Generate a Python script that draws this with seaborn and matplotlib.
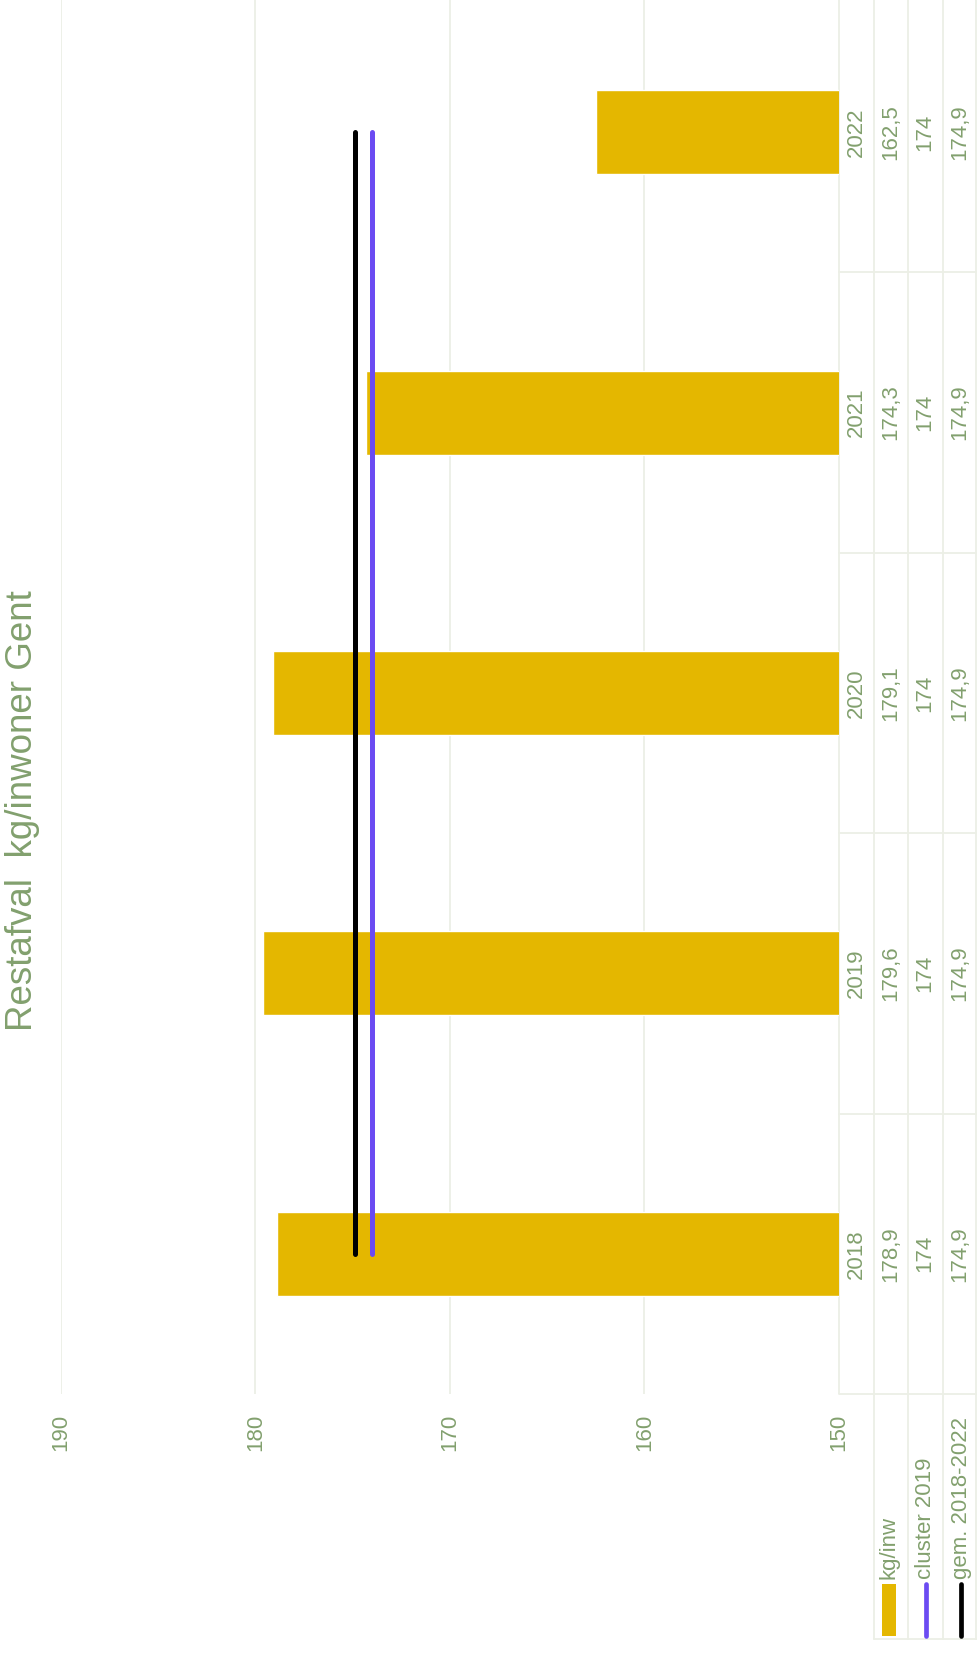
import numpy as np
import pandas as pd
import matplotlib
matplotlib.use("Agg")
import matplotlib.pyplot as plt
import seaborn as sns

sns.set_theme(style="white")
plt.rcParams['font.family'] = ['Liberation Sans', 'DejaVu Sans']

# data
years = [2018, 2019, 2020, 2021, 2022]
kg_inw = [178.9, 179.6, 179.1, 174.3, 162.5]
cluster_2019 = [174, 174, 174, 174, 174]
gem_2018_2022 = [174.9, 174.9, 174.9, 174.9, 174.9]
x_ticks = [190, 180, 170, 160, 150]
legend_labels = ["kg/inw", "cluster 2019", "gem. 2018-2022"]
title = "Restafval  kg/inwoner Gent"

GOLD = "#E4B700"
PURPLE = "#6B4BF2"
BLACK = "#000000"
TXT = "#82A06E"
GRID = "#ECEFE6"

def fmt(v):
    s = f"{v:g}"
    return s.replace(".", ",")

df = pd.DataFrame({"year": years, "kg": kg_inw, "cluster": cluster_2019, "gem": gem_2018_2022})

W, H = 977, 1655
fig = plt.figure(figsize=(W / 100, H / 100), dpi=100)

# px layout (from top)
ax_left, ax_right = 61, 839
ax_top, ax_bottom = -8, 1394
per_year = (ax_bottom - ax_top) / 5.0

ax = fig.add_axes([ax_left / W, (H - ax_bottom) / H, (ax_right - ax_left) / W, (ax_bottom - ax_top) / H])
sns.barplot(data=df, x="kg", y="year", orient="h", native_scale=True, width=0.3,
            color=GOLD, saturation=1, ax=ax)
sns.lineplot(x=df["gem"], y=df["year"], orient="y", sort=False, color=BLACK, lw=3.6,
             solid_capstyle="round", ax=ax)
sns.lineplot(x=df["cluster"], y=df["year"], orient="y", sort=False, color=PURPLE, lw=3.6,
             solid_capstyle="round", ax=ax)
ax.set_xlim(190, 150)
ax.set_ylim(2017.5, 2022.5)
ax.set_xticks(x_ticks)
ax.set_xticklabels([str(t) for t in x_ticks], rotation=90, color=TXT, fontsize=16, va="top")
ax.set_yticks([])
ax.tick_params(axis="x", length=0, pad=14)
ax.grid(axis="x", color=GRID, lw=1.3)
ax.set_xlabel("")
ax.set_ylabel("")
for s in ax.spines.values():
    s.set_visible(False)

# table + legend area
tb_bottom = 1642
ylo = 2022.5 - (tb_bottom - ax_top) / per_year
tx = fig.add_axes([ax_right / W, (H - tb_bottom) / H, (W - ax_right) / W, (tb_bottom - ax_top) / H])
tx.set_xlim(0, 4)
tx.set_ylim(ylo, 2022.5)
tx.axis("off")

for yb in np.arange(2017.5, 2023, 1.0):
    tx.plot([0, 4], [yb, yb], color=GRID, lw=1.3, clip_on=False)
tx.plot([0, 0], [2017.5, 2022.5], color=GRID, lw=1.3)
for xb in [1, 2, 3, 3.97]:
    tx.plot([xb, xb], [ylo + 0.01, 2022.5], color=GRID, lw=1.3)
tx.plot([1, 4], [ylo + 0.01, ylo + 0.01], color=GRID, lw=1.3)

for i, yr in enumerate(years):
    row = [str(yr), fmt(kg_inw[i]), fmt(cluster_2019[i]), fmt(gem_2018_2022[i])]
    for j, t in enumerate(row):
        tx.text(j + 0.5, yr, t, rotation=90, ha="center", va="center", color=TXT, fontsize=16)

# legend cells
sw_bot = 2022.5 - (1636 - ax_top) / per_year
sw_top = 2022.5 - (1584 - ax_top) / per_year
txt_y = 2022.5 - (1579 - ax_top) / per_year
leg_x = [1.45, 2.52, 3.55]
tx.fill_between([leg_x[0] - 0.19, leg_x[0] + 0.19], sw_bot, sw_top, color=GOLD, lw=0)
tx.plot([leg_x[1], leg_x[1]], [sw_bot, sw_top], color=PURPLE, lw=3.4, solid_capstyle="round")
tx.plot([leg_x[2], leg_x[2]], [sw_bot, sw_top], color=BLACK, lw=3.4, solid_capstyle="round")
for lx, lab in zip(leg_x, legend_labels):
    tx.text(lx, txt_y, lab, rotation=90, rotation_mode="anchor", ha="left", va="center",
            color=TXT, fontsize=16)

fig.text(23 / W, (H - 811) / H, title, rotation=90, ha="center", va="center", color=TXT, fontsize=26.5)

fig.savefig("out.png", dpi=100)
